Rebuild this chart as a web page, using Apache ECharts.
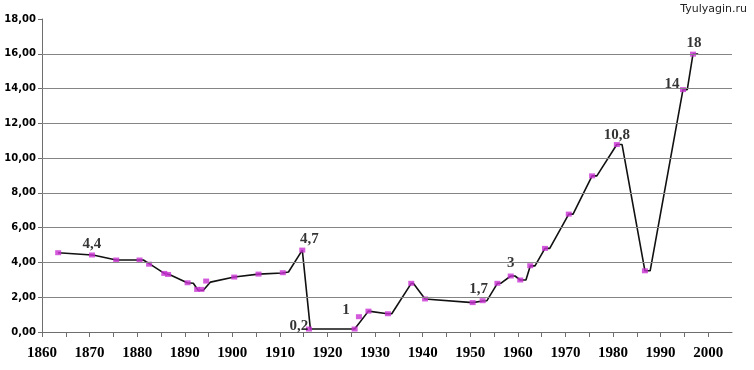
<!DOCTYPE html>
<html>
<head>
<meta charset="utf-8">
<script src="https://cdn.jsdelivr.net/npm/echarts@6/dist/echarts.min.js"></script>
<style>
html,body{margin:0;padding:0;background:#fff;}
#chart{width:754px;height:370px;}
</style>
</head>
<body>
<div id="chart"></div>
<script>
// Marker points (year, value)
const markerYears = [1863.4, 1870.5, 1875.6, 1880.5, 1882.5, 1885.7, 1886.5, 1890.6, 1892.6, 1893.5, 1894.5, 1900.4, 1905.5, 1910.6, 1914.7, 1916.1, 1925.7, 1926.6, 1928.6, 1932.7, 1937.6, 1940.5, 1950.5, 1952.6, 1955.7, 1958.5, 1960.5, 1962.6, 1965.7, 1970.7, 1975.6, 1980.8, 1986.7, 1994.7, 1996.8];
const markerValues = [4.56, 4.43, 4.14, 4.14, 3.9, 3.37, 3.31, 2.83, 2.45, 2.45, 2.93, 3.16, 3.33, 3.41, 4.71, 0.17, 0.17, 0.88, 1.2, 1.05, 2.8, 1.9, 1.69, 1.8, 2.8, 3.22, 2.99, 3.81, 4.81, 6.78, 8.98, 10.78, 3.52, 13.94, 15.98];
// Printed data labels (by marker index)
const labelTexts = {1: '4,4', 14: '4,7', 15: '0,2', 17: '1', 22: '1,7', 25: '3', 31: '10,8', 33: '14', 34: '18'};

// Vertices of the black line as drawn in the picture
const lineYears = [1863.4, 1870.5, 1871.2, 1875.6, 1881.3, 1882.7, 1885.7, 1887.0, 1890.5, 1891.8, 1892.8, 1893.9, 1895.4, 1900.4, 1905.5, 1910.5, 1911.8, 1914.7, 1916.4, 1925.7, 1928.6, 1932.6, 1933.5, 1937.6, 1938.1, 1940.5, 1950.5, 1952.6, 1953.5, 1955.7, 1956.4, 1958.5, 1959.4, 1960.5, 1961.7, 1962.6, 1963.6, 1965.7, 1966.7, 1970.7, 1971.6, 1975.6, 1976.6, 1980.8, 1981.9, 1986.7, 1987.8, 1994.7, 1995.6, 1996.8, 1997.9];
const lineValues = [4.56, 4.43, 4.4, 4.14, 4.14, 3.9, 3.37, 3.28, 2.83, 2.8, 2.4, 2.4, 2.87, 3.16, 3.33, 3.39, 3.45, 4.71, 0.17, 0.17, 1.2, 1.05, 1.05, 2.8, 2.78, 1.9, 1.69, 1.78, 1.8, 2.8, 2.8, 3.22, 3.22, 2.99, 2.99, 3.8, 3.8, 4.81, 4.81, 6.78, 6.78, 8.98, 8.98, 10.78, 10.78, 3.52, 3.52, 13.94, 13.94, 15.98, 15.98];

const gridValues = [2, 4, 6, 8, 10, 12, 14, 16];
const xLabelYears = [1860, 1870, 1880, 1890, 1900, 1910, 1920, 1930, 1940, 1950, 1960, 1970, 1980, 1990, 2000];
const watermark = 'Tyulyagin.ru';

// label placement (style only)
const labelOffsets = {1: [0, -11], 14: [7, -11], 15: [-10, -3], 17: [-13, -7], 22: [6, -13], 25: [0, -13], 31: [0, -9], 33: [-11, -5], 34: [1, -11]};

const labelFont = {color: '#000', fontFamily: 'Liberation Serif', fontWeight: 'bold', fontSize: 15, textBorderWidth: 0, textShadowBlur: 0};

const scatterData = markerYears.map((y, i) => {
  const d = {value: [y, markerValues[i]]};
  if (labelTexts[i] !== undefined) {
    d.label = Object.assign({show: true, formatter: labelTexts[i], position: 'inside', offset: labelOffsets[i]}, labelFont);
  }
  return d;
});

const chart = echarts.init(document.getElementById('chart'), null, {renderer: 'canvas'});
chart.setOption({
  animation: false,
  backgroundColor: '#ffffff',
  graphic: [{
    type: 'text', right: 7, top: 4,
    style: {text: watermark, font: '11px "DejaVu Sans"', fill: '#222'}
  }],
  grid: {left: 42, right: 22, top: 19, bottom: 38},
  xAxis: {
    type: 'value', min: 1860, max: 2005, interval: 5,
    axisLine: {show: true, onZero: false, lineStyle: {color: '#6e6e6e', width: 1}},
    axisTick: {show: true, length: 5, lineStyle: {color: '#6e6e6e'}},
    splitLine: {show: false},
    axisLabel: {
      margin: 14, color: '#000',
      fontFamily: 'Liberation Serif', fontWeight: 'bold', fontSize: 15,
      formatter: v => xLabelYears.indexOf(v) >= 0 ? String(v) : '',
      showMaxLabel: false
    }
  },
  yAxis: {
    type: 'value', min: 0, max: 18, interval: 2,
    axisLine: {show: true, lineStyle: {color: '#6e6e6e', width: 1}},
    axisTick: {show: true, length: 4, lineStyle: {color: '#6e6e6e'}},
    splitLine: {show: false},
    axisLabel: {
      margin: 6, color: '#000',
      fontFamily: 'DejaVu Sans', fontWeight: 'bold', fontSize: 10,
      formatter: v => v.toFixed(2).replace('.', ',')
    }
  },
  series: [
    {
      type: 'line',
      data: lineYears.map((y, i) => [y, lineValues[i]]),
      showSymbol: false, symbol: 'none',
      lineStyle: {color: '#111', width: 1.6},
      z: 3,
      markLine: {
        silent: true, symbol: 'none',
        label: {show: false},
        lineStyle: {color: '#858585', width: 1, type: 'solid'},
        data: gridValues.map(v => ({yAxis: v}))
      }
    },
    {
      type: 'scatter',
      data: scatterData,
      symbol: 'rect', symbolSize: [6, 5],
      itemStyle: {color: '#c832d2'},
      z: 4,
      label: Object.assign({show: false}, labelFont)
    }
  ]
});
</script>
</body>
</html>
